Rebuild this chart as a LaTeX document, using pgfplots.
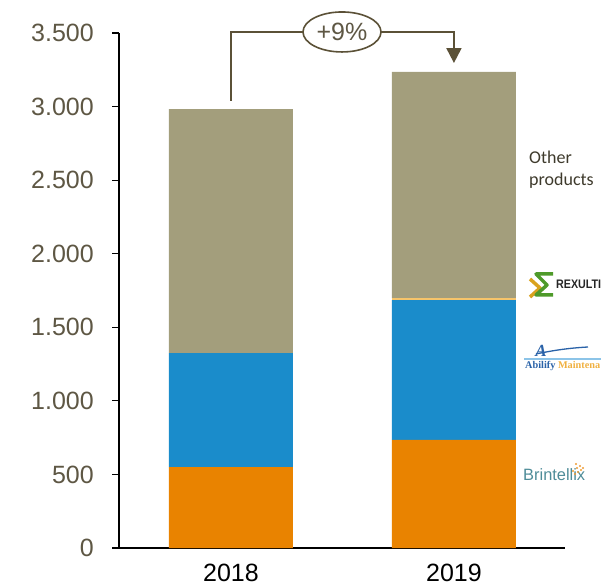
\documentclass[border=0pt]{standalone}
\usepackage{pgfplots}
\pgfplotsset{compat=1.18}
\usepackage{graphicx}
\usepackage{fontspec}
\setmainfont{Liberation Sans}
\newfontfamily\carlito{Carlito}
\newfontfamily\lserif{Liberation Serif}
\usetikzlibrary{arrows.meta,shapes.geometric}
\definecolor{cOrange}{HTML}{E98300}
\definecolor{cBlue}{HTML}{1A8CCB}
\definecolor{cYellow}{HTML}{F6C46A}
\definecolor{cKhaki}{HTML}{A39E7C}
\definecolor{cOlive}{HTML}{5B5137}
\definecolor{cTick}{HTML}{5E5744}
\definecolor{cText}{HTML}{3E3A2C}
\definecolor{cBrin}{HTML}{4E8C98}
\definecolor{cAbBlue}{HTML}{2A62A8}
\definecolor{cAbGold}{HTML}{F0B040}
\definecolor{cAbLight}{HTML}{8CC4E8}
\definecolor{cRxGreen}{HTML}{4E9A2A}
\definecolor{cRxGold}{HTML}{D9A21E}
\begin{document}
\begin{tikzpicture}
\useasboundingbox (0,0) rectangle (603bp,586bp);
\begin{axis}[
  at={(119bp,38bp)}, anchor=south west,
  scale only axis, width=446bp, height=515bp,
  xmin=-0.502, xmax=1.498, ymin=0, ymax=3500,
  axis x line*=bottom, axis y line*=left,
  axis line style={line width=1.2bp, black},
  xtick={0,1}, xticklabels={2018,2019},
  major x tick style={draw=none},
  ytick={0,500,1000,1500,2000,2500,3000,3500},
  tick align=outside, major tick length=7bp,
  major y tick style={line width=1.2bp, black},
  scaled y ticks=false,
  yticklabel style={/pgf/number format/.cd, 1000 sep={.}, assume math mode=true, /tikz/.cd,
     font=\fontsize{25bp}{25bp}\selectfont, text=cTick, inner sep=0pt, xshift=-18bp},
  xticklabel style={font=\fontsize{25bp}{25bp}\selectfont, text=black, inner sep=0pt, yshift=-9bp},
  ybar stacked, bar width=124bp,
  clip=false,
]
\addplot[fill=cOrange, draw=none] coordinates {(0,550) (1,734)};
\addplot[fill=cBlue, draw=none] coordinates {(0,775) (1,951)};
\addplot[fill=cYellow, draw=none] coordinates {(0,0) (1,12)};
\addplot[fill=cKhaki, draw=none] coordinates {(0,1658) (1,1538)};
\coordinate (a0) at (axis cs:0,3038);
\coordinate (a1) at (axis cs:1,3507);
\coordinate (a2) at (axis cs:1,3296);
\coordinate (oc) at (axis cs:0.498,3507);
\end{axis}
\draw[cOlive, line width=2bp, -{Triangle[length=15bp,width=15bp]}]
  (a0) |- (a1) -- (a2);
\node[ellipse, draw=cOlive, line width=1.6bp, fill=white, minimum width=78bp,
  minimum height=40bp, inner sep=0pt, text=cTick, font=\fontsize{25bp}{25bp}\selectfont]
  at (oc) {+9\%};
% Other products label
\node[anchor=base west, inner sep=0pt, text=cText, font=\carlito\fontsize{18bp}{18bp}\selectfont] at (529bp,422bp) {Other};
\node[anchor=base west, inner sep=0pt, text=cText, font=\carlito\fontsize{18bp}{18bp}\selectfont] at (529bp,400bp) {products};
% Rexulti logo
\draw[cRxGold, line width=3.5bp, line join=round] (530bp,307bp) -- (540bp,298bp) -- (530bp,289bp);
\draw[cRxGreen, line width=3.5bp, line join=round] (553bp,312bp) -- (536bp,312bp) -- (547bp,301bp) -- (536bp,291bp) -- (553bp,291bp);
\node[anchor=base west, inner sep=0pt] at (556bp,297bp) {\resizebox{45bp}{8.5bp}{\color{black!85}\bfseries REXULTI}};
% Abilify Maintena logo
\draw[cAbLight, line width=1.2bp] (524bp,227bp) -- (601bp,227bp);
\node[anchor=base, inner sep=0pt, text=cAbBlue, font=\lserif\bfseries\itshape\fontsize{17bp}{17bp}\selectfont] at (541bp,229bp) {A};
\draw[cAbBlue, line width=1.3bp] (536bp,232bp) .. controls (555bp,236bp) and (570bp,238bp) .. (588bp,239bp);
\node[anchor=base west, inner sep=0pt] at (525bp,217bp) {\resizebox{75bp}{!}{\lserif\bfseries{\color{cAbBlue}Abilify} {\color{cAbGold}Maintena}}};
% Brintellix logo
\node[anchor=base west, inner sep=0pt] at (523bp,105bp) {\resizebox{62bp}{!}{\color{cBrin}Brintellix}};
\foreach \dx/\dy in {0/0,3/2,6/4,-2/3,2/6,5/8,8/6,1/10}{
  \fill[cOrange!80] ({575bp+\dx bp},{112bp+\dy bp}) circle (1.1bp);
}
\end{tikzpicture}
\end{document}
